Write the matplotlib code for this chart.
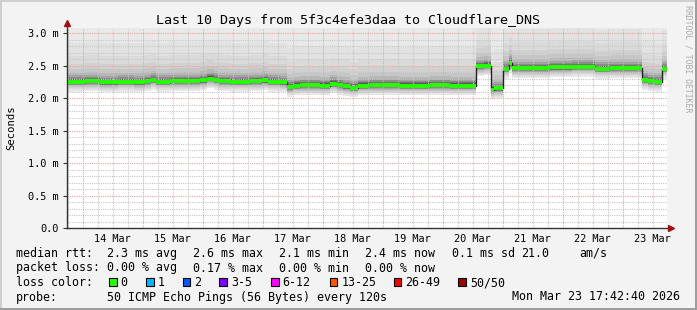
#!/usr/bin/env python3
"""
SmokePing style graph: Last 10 Days, 5f3c4efe3daa -> Cloudflare_DNS
"""

import matplotlib
matplotlib.use("Agg")
import matplotlib.pyplot as plt
import matplotlib.dates as mdates
from matplotlib.patches import Rectangle
import numpy as np
import pandas as pd

W, H = 697, 310
start = pd.Timestamp("2026-03-13 17:42:40")
end = pd.Timestamp("2026-03-23 17:42:40")

# median rtt (ms) as steps: hours since start -> value
step_hours = [0, 7.2, 13.2, 20.4, 26.8, 31.2, 33.6, 35.6, 41.2, 48, 53.2, 56, 58.8,
              60.4, 65.2, 73.2, 78, 80.4, 85.2, 88, 90.4, 93.2, 101.2, 105.2, 108,
              110.4, 113.2, 116.4, 121.2, 133.2, 145.2, 153.2, 163.6, 166.8, 169.6,
              170.8, 174.4, 176.8, 178, 185.2, 193.2, 202, 211.2, 217.2, 223.2, 230,
              232.4, 235.2, 238, 240]
step_median = [2.25, 2.26, 2.24, 2.25, 2.24, 2.26, 2.28, 2.25, 2.26, 2.26, 2.27, 2.30, 2.28,
               2.26, 2.25, 2.26, 2.27, 2.25, 2.24, 2.17, 2.19, 2.20, 2.19, 2.22, 2.20,
               2.18, 2.16, 2.19, 2.20, 2.19, 2.20, 2.19, 2.49, 2.50, 2.13,
               2.15, 2.45, 2.54, 2.46, 2.46, 2.47, 2.48, 2.45, 2.46, 2.46, 2.28,
               2.26, 2.25, 2.45, 2.45]

# smoke bands around the median (ms offsets), outer to inner
smoke_lo = [-0.15, -0.13, -0.115, -0.10, -0.085, -0.07, -0.055, -0.045, -0.035, -0.025, -0.015]
smoke_hi = [3.0, 0.60, 0.40, 0.28, 0.20, 0.14, 0.10, 0.07, 0.05, 0.035, 0.022]
smoke_gray = ['#e9e9e9', '#e2e2e2', '#dadada', '#d1d1d1', '#c6c6c6', '#b7b7b7',
              '#a3a3a3', '#8b8b8b', '#737373', '#5b5b5b', '#434343']

y_ticks = [0.0, 0.5, 1.0, 1.5, 2.0, 2.5, 3.0]

legend_rtt = [("median rtt:", 16), ("2.3 ms avg", 107), ("2.6 ms max", 193),
              ("2.1 ms min", 279), ("2.4 ms now", 365), ("0.1 ms sd", 451.5),
              ("21.0", 521.5), ("am/s", 579)]
legend_loss = [("packet loss:", 16), ("0.00 % avg", 107), ("0.17 % max", 193),
               ("0.00 % min", 279), ("0.00 % now", 365)]
loss_labels = ["0", "1", "2", "3-5", "6-12", "13-25", "26-49", "50/50"]
loss_colors = ['#26ff00', '#00b8ff', '#0059ff', '#7e00ff', '#ff00ff', '#ff5500', '#ff0000', '#a10000']
loss_box_x = [109, 146, 182.7, 219.3, 271, 329.5, 393.5, 458.3]

mono = 'DejaVu Sans Mono'

fig = plt.figure(figsize=(W / 100, H / 100), dpi=100)
fig.patch.set_facecolor('#f3f3f3')
ax = fig.add_axes([67 / W, 1 - 228 / H, 600 / W, 200 / H])
ax.set_facecolor('white')

t = start + pd.to_timedelta(step_hours, unit='h')
med = np.array(step_median)

# ========== smoke ==========
for lo, hi, col in zip(smoke_lo, smoke_hi, smoke_gray):
    ax.fill_between(t, med + lo, med + hi, step='post', color=col, lw=0, zorder=1)

ax.set_xlim(start, end)
ax.set_ylim(0, 3.077)

# ========== grid (drawn over the smoke) ==========
for v in np.arange(0.1, 3.08, 0.1):
    major = abs(v / 0.5 - round(v / 0.5)) < 1e-6
    ax.axhline(v, color='#eba4a4' if major else '#c8c8c8', lw=0.8,
               ls=(0, (1, 1)), zorder=3)
for g in pd.date_range(start.ceil('6h'), end, freq='6h'):
    ax.axvline(g, color='#eba4a4' if g.hour == 0 else '#c8c8c8', lw=0.8,
               ls=(0, (1, 1)), zorder=3)

# ========== median line ==========
ax.step(t, med, where='post', color='#202020', lw=1.0, zorder=4)
ax.hlines(med[:-1], t[:-1], t[1:], color='#26ff00', lw=2.8, zorder=5,
          capstyle='butt')

# ========== axes ==========
for s in ax.spines.values():
    s.set_visible(False)
ax.plot([0, 0], [0, 1 + 3 / 200], transform=ax.transAxes, color='#333333',
        lw=1, clip_on=False, zorder=6)
ax.plot([0, 1 + 2 / 600], [0, 0], transform=ax.transAxes, color='#333333',
        lw=1, clip_on=False, zorder=6)
ax.plot([0], [1 + 5 / 200], transform=ax.transAxes, marker='^', ms=4,
        color='#a01010', clip_on=False, zorder=7)
ax.plot([1 + 4 / 600], [0], transform=ax.transAxes, marker='>', ms=4,
        color='#a01010', clip_on=False, zorder=7)

ax.set_yticks(y_ticks)
ax.set_yticklabels(["0.0"] + [f"{v:.1f} m" for v in y_ticks[1:]])
ax.xaxis.set_major_locator(mdates.HourLocator(byhour=12))
ax.xaxis.set_major_formatter(mdates.DateFormatter('%d %b'))
ax.tick_params(axis='y', length=3, width=0.8, color='#333333', pad=3,
               labelsize=7.4)
ax.tick_params(axis='x', length=0, pad=4, labelsize=7.4)
for lab in ax.get_xticklabels() + ax.get_yticklabels():
    lab.set_family(mono)

fig.text(11 / W, 1 - 128 / H, "Seconds", rotation=90, ha='center', va='center',
         family=mono, fontsize=7.6)

# ========== title & watermark ==========
fig.text(0.5, 1 - 24 / H, "Last 10 Days from 5f3c4efe3daa to Cloudflare_DNS",
         ha='center', va='baseline', family=mono, fontsize=9.6)
fig.text(688 / W, 1 - 59 / H, "RRDTOOL / TOBI OETIKER", rotation=270,
         ha='center', va='center', family=mono, fontsize=5.9, color='#aaaaaa')

# ========== legend ==========
def put(txt, x, y):
    fig.text(x / W, 1 - y / H, txt, ha='left', va='baseline', family=mono,
             fontsize=8.35)

for txt, x in legend_rtt:
    put(txt, x, 257)
for txt, x in legend_loss:
    put(txt, x, 271.5)
put("loss color:", 16, 286)
for lab, col, bx in zip(loss_labels, loss_colors, loss_box_x):
    fig.add_artist(Rectangle((bx / W, 1 - 285.5 / H), 7.5 / W, 7.5 / H,
                             transform=fig.transFigure, fc=col, ec='black', lw=0.8))
    put(lab, bx + 11.7, 286)
put("probe:", 16, 300.5)
put("50 ICMP Echo Pings (56 Bytes) every 120s", 107, 300.5)
put("Mon Mar 23 17:42:40 2026", 512.5, 300.5)

# ========== border shading ==========
fig.add_artist(Rectangle((0, 1 - 2 / H), 1, 2 / H, transform=fig.transFigure,
                         fc='#cfcfcf', lw=0))
fig.add_artist(Rectangle((0, 0), 2 / W, 1, transform=fig.transFigure,
                         fc='#cfcfcf', lw=0))
fig.add_artist(Rectangle((0, 0), 1, 2 / H, transform=fig.transFigure,
                         fc='#9e9e9e', lw=0))
fig.add_artist(Rectangle((1 - 2 / W, 0), 2 / W, 1, transform=fig.transFigure,
                         fc='#9e9e9e', lw=0))

fig.savefig("out.png", dpi=100, facecolor=fig.get_facecolor())
plt.close(fig)
